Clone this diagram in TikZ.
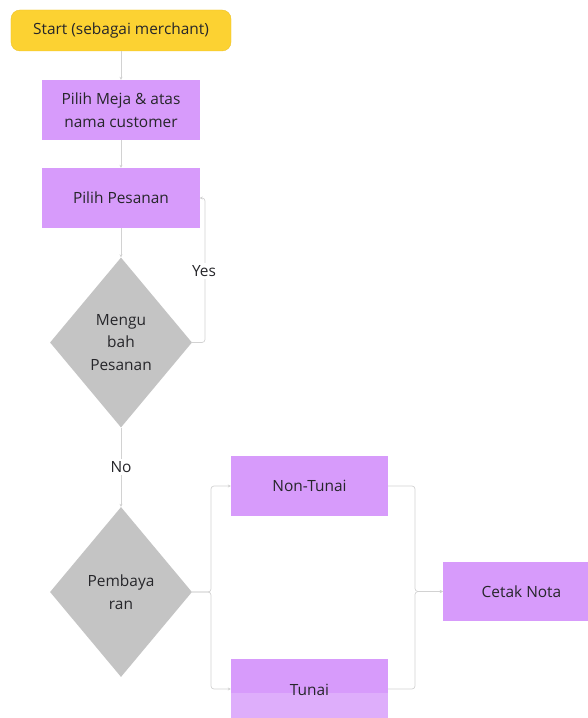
\documentclass[tikz,border=0pt]{standalone}
\usepackage{fontspec}
\setmainfont{Open Sans}
\usetikzlibrary{shapes.geometric,arrows.meta}
\definecolor{startyellow}{HTML}{FCD232}
\definecolor{startedge}{HTML}{EDC227}
\definecolor{procpurple}{HTML}{D79BFB}
\definecolor{procpale}{HTML}{DEAEFB}
\definecolor{decgray}{HTML}{C4C4C4}
\definecolor{inkgray}{HTML}{26262A}
\definecolor{wire}{HTML}{D2D2D2}
\begin{document}
\begin{tikzpicture}[x=1bp,y=-1bp,
  every node/.style={text=inkgray,font=\fontsize{15.5}{23}\selectfont,inner sep=0pt},
  startbox/.style={draw=startedge,fill=startyellow,rounded corners=9bp,minimum width=220bp,minimum height=41bp},
  procbox/.style={fill=procpurple,minimum width=157bp,minimum height=60bp,align=center},
  decbox/.style={diamond,fill=decgray,minimum width=142bp,minimum height=170bp,align=center},
  wireline/.style={draw=wire,line width=0.7pt,rounded corners=3bp,-{Stealth[length=3pt,width=3pt]}},
  lbl/.style={fill=white,inner sep=2pt}]
\useasboundingbox (0,0) rectangle (588,718);
\clip (0,0) rectangle (588,718);

% nodes
\node[startbox] (start) at (121,30.5) {Start (sebagai merchant)};
\node[procbox] (meja) at (121,110) {Pilih Meja \& atas\\nama customer};
\node[procbox] (pesan) at (121,198) {Pilih Pesanan};
\node[decbox] (ubah) at (121,342.5) {Mengu\\bah\\Pesanan};
\node[decbox] (bayar) at (121,592) {Pembaya\\ran};
\node[procbox] (nontunai) at (309.5,486) {Non-Tunai};
\node[procbox] (tunai) at (309.5,689) {};
\fill[procpale] (tunai.west |- 0,693) rectangle (tunai.south east);
\node at (309.5,690) {Tunai};
\node[procbox,minimum height=59bp] (nota) at (521.5,591.5) {Cetak Nota};

% connectors
\coordinate (yesturn) at (205,0);
\coordinate (split) at (211,0);
\coordinate (merge) at (415,0);
\draw[wireline] (start) -- (meja);
\draw[wireline] (meja) -- (pesan);
\draw[wireline] (pesan) -- (ubah);
\draw[wireline] (ubah.east) -- (yesturn |- ubah.east) -- (yesturn |- pesan.east) -- (pesan.east);
\node[lbl] at (204,271) {Yes};
\draw[wireline] (ubah) -- (bayar);
\node[lbl] at (121,467) {No};
\draw[wireline] (bayar.east) -- (split |- bayar.east) -- (split |- nontunai.west) -- (nontunai.west);
\draw[wireline] (bayar.east) -- (split |- bayar.east) -- (split |- tunai.west) -- (tunai.west);
\draw[wireline] (nontunai.east) -- (merge |- nontunai.east) -- (merge |- nota.west) -- (nota.west);
\draw[wireline] (tunai.east) -- (merge |- tunai.east) -- (merge |- nota.west) -- (nota.west);
\end{tikzpicture}
\end{document}
